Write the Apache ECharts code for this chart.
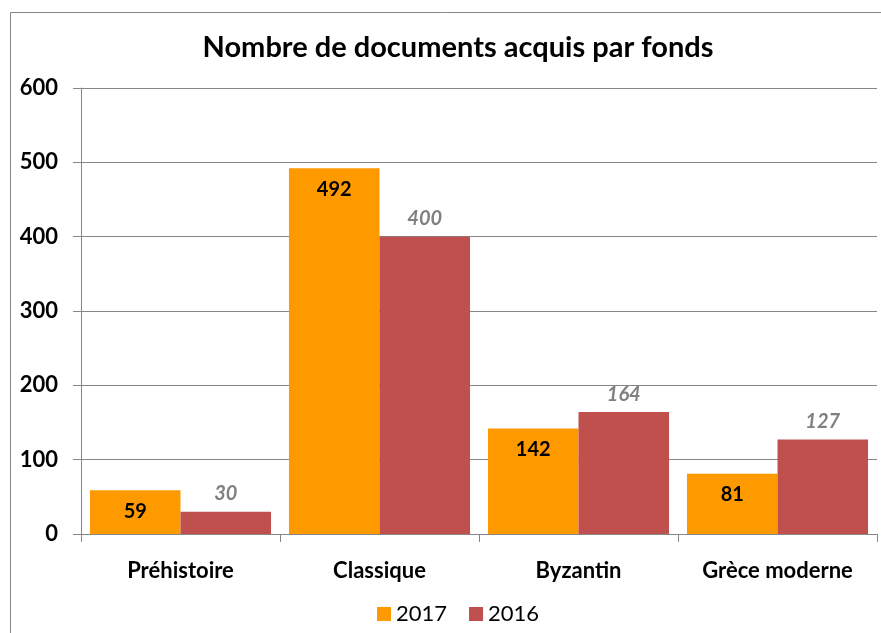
<!DOCTYPE html>
<html>
<head>
<meta charset="utf-8">
<script src="https://cdn.jsdelivr.net/npm/echarts@6/dist/echarts.min.js"></script>
<style>
	html, body { margin: 0; padding: 0; background: #fff; }
	#chart { width: 881px; height: 633px; }
</style>
</head>
<body>
<div id="chart"></div>
<script>
const categories = ['Préhistoire', 'Classique', 'Byzantin', 'Grèce moderne'];
const values_2017 = [59, 492, 142, 81];
const values_2016 = [30, 400, 164, 127];
const yticks = [0, 100, 200, 300, 400, 500, 600];

var chartDom = document.getElementById('chart');
var myChart = echarts.init(chartDom);

var fontname = 'Lato, "Open Sans", sans-serif';

var option = {
	animation: false,
	textStyle: { fontFamily: fontname },
	title: {
		text: 'Nombre de documents acquis par fonds',
		left: 453,
		textAlign: 'center',
		top: 28,
		textStyle: { fontSize: 29, fontWeight: 'bold', color: '#000', fontFamily: fontname }
	},
	legend: {
		data: ['2017', '2016'],
		top: 598,
		left: 372,
		itemWidth: 14,
		itemHeight: 14,
		itemGap: 22,
		icon: 'rect',
		textStyle: { fontSize: 22, color: '#000', fontFamily: fontname }
	},
	grid: {
		left: 81,
		right: 4,
		top: 88,
		bottom: 99,
		containLabel: false
	},
	graphic: [
		{
			type: 'rect',
			shape: { x: 10.5, y: 12.5, width: 900, height: 700 },
			style: { fill: 'none', stroke: '#868686', lineWidth: 1 },
			silent: true
		}
	],
	xAxis: {
		type: 'category',
		data: categories,
		axisLine: { lineStyle: { color: '#868686', width: 1 } },
		axisTick: { show: true, length: 8, lineStyle: { color: '#868686' } },
		axisLabel: { fontSize: 22, fontWeight: 'bold', color: '#000', margin: 26, fontFamily: fontname }
	},
	yAxis: {
		type: 'value',
		min: yticks[0],
		max: yticks[yticks.length - 1],
		interval: 100,
		axisLine: { show: true, lineStyle: { color: '#868686', width: 1 } },
		axisTick: { show: true, length: 8, lineStyle: { color: '#868686' } },
		splitLine: { lineStyle: { color: '#868686', width: 1 } },
		axisLabel: { fontSize: 22, fontWeight: 'bold', color: '#000', margin: 23, fontFamily: fontname }
	},
	series: [
		{
			name: '2017',
			type: 'bar',
			data: values_2017,
			barGap: '0%',
			barCategoryGap: '9%',
			itemStyle: { color: '#FF9900' },
			label: {
				show: true,
				position: 'insideTop',
				distance: 11,
				fontSize: 20,
				fontWeight: 'bold',
				color: '#000',
				fontFamily: fontname
			}
		},
		{
			name: '2016',
			type: 'bar',
			data: values_2016,
			itemStyle: { color: '#C0504D' },
			label: {
				show: true,
				position: 'top',
				distance: 8,
				fontSize: 20,
				fontWeight: 'bold',
				fontStyle: 'italic',
				color: '#808080',
				fontFamily: fontname
			}
		}
	]
};

myChart.setOption(option);
</script>
</body>
</html>
